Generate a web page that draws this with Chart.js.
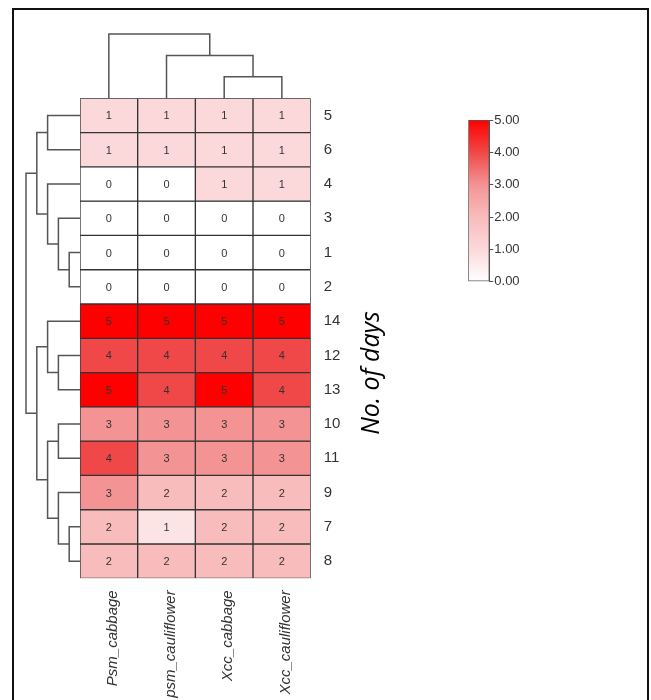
<!DOCTYPE html>
<html>
<head>
<meta charset="utf-8">
<script src="https://cdn.jsdelivr.net/npm/chart.js@4.4.0/dist/chart.umd.min.js"></script>
<style>
  body { margin: 0; background: #fff; }
  #wrap { position: relative; width: 651px; height: 700px; overflow: hidden; }
  #wrap canvas { position: absolute; }
  #frame { position: absolute; left: 12px; top: 8px; width: 633px; height: 720px;
           border-top: 2px solid #111; border-left: 2px solid #111; border-right: 2px solid #111; }
</style>
</head>
<body>
<div id="wrap">
  <div id="frame"></div>
  <canvas id="heat" width="651" height="700" style="left:0;top:0"></canvas>
  <canvas id="topTree" width="651" height="700" style="left:0;top:0"></canvas>
  <canvas id="leftTree" width="651" height="700" style="left:0;top:0"></canvas>
  <canvas id="scale" width="120" height="200" style="left:440px;top:100px"></canvas>
</div>
<script>
// columns and rows in the order of the clustered heatmap
const columns = ['Psm_cabbage', 'psm_cauliflower', 'Xcc_cabbage', 'Xcc_cauliflower'];
const rowLabels = ['5', '6', '4', '3', '1', '2', '14', '12', '13', '10', '11', '9', '7', '8'];

// one array per column, top row first
const psmCabbage     = [1, 1, 0, 0, 0, 0, 5, 4, 5, 3, 4, 3, 2, 2];
const psmCauliflower = [1, 1, 0, 0, 0, 0, 5, 4, 4, 3, 3, 2, 0.7, 2];
const xccCabbage     = [1, 1, 1, 0, 0, 0, 5, 4, 5, 3, 3, 2, 2, 2];
const xccCauliflower = [1, 1, 1, 0, 0, 0, 5, 4, 4, 3, 3, 2, 2, 2];

// colour bar
const scaleMin = 0;
const scaleMax = 5;

// dendrograms: [childA, childB, height], leaves are 0..n-1, merged nodes follow
const rowLinkage = [
  [4, 5, 1], [12, 13, 1], [3, 14, 2], [0, 1, 3], [2, 16, 3],
  [7, 8, 2], [6, 19, 3], [9, 10, 2], [11, 15, 2], [21, 22, 3],
  [17, 18, 4], [20, 23, 4], [24, 25, 5]
];
const colLinkage = [[2, 3, 1], [1, 4, 2], [0, 5, 3]];

const colorStops = [
  [0, [255, 255, 255]], [1, [251, 217, 218]], [2, [248, 188, 188]],
  [3, [244, 147, 147]], [4, [240, 72, 72]], [5, [254, 0, 0]]
];

const matrix = [psmCabbage, psmCauliflower, xccCabbage, xccCauliflower];
const FONT = '"Liberation Sans", Arial, sans-serif';

function colorFor(v) {
  for (let i = 0; i < colorStops.length - 1; i++) {
    const [v0, c0] = colorStops[i];
    const [v1, c1] = colorStops[i + 1];
    if (v <= v1 || i === colorStops.length - 2) {
      const t = Math.max(0, Math.min(1, (v - v0) / (v1 - v0)));
      const c = c0.map((x, k) => Math.round(x + (c1[k] - x) * t));
      return `rgb(${c[0]},${c[1]},${c[2]})`;
    }
  }
}

function dendroSegments(linkage, n) {
  const pos = [], hgt = [];
  for (let i = 0; i < n; i++) { pos[i] = i; hgt[i] = 0; }
  return linkage.map(([a, b, h], k) => {
    const id = n + k;
    pos[id] = (pos[a] + pos[b]) / 2;
    hgt[id] = h;
    return [[hgt[a], pos[a]], [h, pos[a]], [h, pos[b]], [hgt[b], pos[b]]];
  });
}

// heatmap cells as stacked unit bars, one dataset per row
const cellDatasets = rowLabels.map((r, ri) => ({
  label: r,
  data: columns.map(() => 1),
  backgroundColor: columns.map((c, ci) => colorFor(matrix[ci][ri])),
  cellText: columns.map((c, ci) => String(Math.round(matrix[ci][ri]))),
  borderColor: '#333',
  borderWidth: 1,
  borderSkipped: false,
  barPercentage: 1,
  categoryPercentage: 1
}));

const cellText = {
  id: 'cellText',
  afterDatasetsDraw(chart) {
    const ctx = chart.ctx;
    ctx.save();
    ctx.font = '11px ' + FONT;
    ctx.fillStyle = '#333';
    ctx.textAlign = 'center';
    ctx.textBaseline = 'middle';
    chart.data.datasets.forEach((ds, i) => {
      chart.getDatasetMeta(i).data.forEach((el, j) => {
        ctx.fillText(ds.cellText[j], el.x, (el.y + el.base) / 2 + 1);
      });
    });
    ctx.restore();
  },
  afterDraw(chart) {
    const ctx = chart.ctx;
    ctx.save();
    ctx.translate(379, 373);
    ctx.rotate(-Math.PI / 2);
    ctx.font = 'italic 25px "Open Sans", sans-serif';
    ctx.fillStyle = '#000';
    ctx.textAlign = 'center';
    ctx.textBaseline = 'alphabetic';
    ctx.fillText('No. of days', 0, 0);
    ctx.restore();
  }
};

new Chart(document.getElementById('heat'), {
  type: 'bar',
  data: { labels: columns, datasets: cellDatasets },
  options: {
    responsive: false,
    animation: false,
    layout: { padding: { left: 80, top: 98.3, right: 300.3, bottom: 0 } },
    plugins: { legend: { display: false }, tooltip: { enabled: false } },
    scales: {
      x: {
        stacked: true,
        grid: { display: false },
        border: { display: false },
        afterFit(s) { s.height = 121.7; },
        ticks: {
          autoSkip: false, minRotation: 90, maxRotation: 90, padding: 4, labelOffset: 4,
          color: '#333', font: { family: FONT, size: 15, style: 'italic' }
        }
      },
      y: { stacked: true, min: 0, max: rowLabels.length, reverse: true, display: false },
      y2: {
        type: 'category',
        labels: rowLabels,
        position: 'right',
        offset: true,
        grid: { display: false },
        border: { display: false },
        afterFit(s) { s.width = 40; },
        ticks: { padding: 5, color: '#333', font: { family: FONT, size: 15 } }
      }
    }
  },
  plugins: [cellText]
});

const treeStyle = { showLine: true, pointRadius: 0, borderColor: '#555', borderWidth: 1.5, tension: 0, clip: false };

new Chart(document.getElementById('topTree'), {
  type: 'scatter',
  data: {
    datasets: dendroSegments(colLinkage, columns.length).map(seg => ({
      ...treeStyle, data: seg.map(([h, p]) => ({ x: p, y: h }))
    }))
  },
  options: {
    responsive: false,
    animation: false,
    layout: { padding: { left: 80, right: 340.3, top: 34, bottom: 601.7 } },
    plugins: { legend: { display: false }, tooltip: { enabled: false } },
    scales: {
      x: { type: 'linear', min: -0.5, max: columns.length - 0.5, display: false },
      y: { type: 'linear', min: 0, max: 3, display: false }
    }
  }
});

new Chart(document.getElementById('leftTree'), {
  type: 'scatter',
  data: {
    datasets: dendroSegments(rowLinkage, rowLabels.length).map(seg => ({
      ...treeStyle, data: seg.map(([h, p]) => ({ x: h, y: p }))
    }))
  },
  options: {
    responsive: false,
    animation: false,
    layout: { padding: { left: 26, right: 571, top: 98.3, bottom: 121.7 } },
    plugins: { legend: { display: false }, tooltip: { enabled: false } },
    scales: {
      x: { type: 'linear', min: 0, max: 5, reverse: true, display: false },
      y: { type: 'linear', min: -0.5, max: rowLabels.length - 0.5, reverse: true, display: false }
    }
  }
});

// colour bar legend
new Chart(document.getElementById('scale'), {
  type: 'bar',
  data: {
    labels: [''],
    datasets: [{
      data: [[scaleMin, scaleMax]],
      backgroundColor(context) {
        const area = context.chart.chartArea;
        if (!area) return null;
        const g = context.chart.ctx.createLinearGradient(0, area.bottom, 0, area.top);
        colorStops.forEach(([v, c]) => g.addColorStop((v - scaleMin) / (scaleMax - scaleMin), `rgb(${c[0]},${c[1]},${c[2]})`));
        return g;
      },
      borderColor: '#555',
      borderWidth: 1,
      borderSkipped: false,
      barPercentage: 1,
      categoryPercentage: 1
    }]
  },
  options: {
    responsive: false,
    animation: false,
    layout: { padding: { left: 28.3, right: 30.7, top: 20, bottom: 18.3 } },
    plugins: { legend: { display: false }, tooltip: { enabled: false } },
    scales: {
      x: { display: false },
      y: {
        position: 'right',
        min: scaleMin,
        max: scaleMax,
        afterFit(s) { s.width = 40; },
        border: { display: true, color: '#555' },
        grid: { drawOnChartArea: false, tickLength: 4, color: '#555' },
        ticks: {
          stepSize: 1, padding: 1, color: '#333', font: { family: FONT, size: 13 },
          callback: v => v.toFixed(2)
        }
      }
    }
  }
});
</script>
</body>
</html>
